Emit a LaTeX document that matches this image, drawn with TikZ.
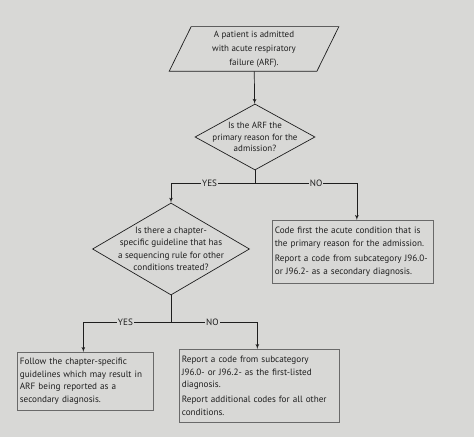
\documentclass[tikz,border=0pt]{standalone}
\usepackage{fontspec}
\setmainfont{PT Sans}
\usetikzlibrary{shapes,arrows}
\definecolor{bg}{RGB}{216,216,214}
\definecolor{ink}{RGB}{30,30,30}
\definecolor{frame}{RGB}{105,105,105}
\tikzstyle{io} = [minimum width=147bp, minimum height=44bp, inner sep=0pt, align=center]
\tikzstyle{decision} = [draw=ink, diamond, inner sep=0pt]
\tikzstyle{block} = [draw=frame, rectangle, align=left, inner xsep=2.5bp, inner ysep=0pt, anchor=north west]
\tikzstyle{branch} = [coordinate]
\tikzstyle{answer} = [fill=bg, inner sep=1pt, text=ink]

\begin{document}
\begin{tikzpicture}[x=1bp, y=-1bp, >=latex', font=\fontsize{9.2}{12.5}\selectfont, text=ink, line width=0.7bp]
\fill[bg] (0,0) rectangle (474,437);
\useasboundingbox (0,0) rectangle (474,437);

% the start and the two questions
\node [io, font=\fontsize{9}{14}\selectfont] (admit) at (254,49) {A patient is admitted\\with acute respiratory\\failure (ARF).};
\draw [ink] ([xshift=-11bp]admit.south west) -- ([xshift=11bp]admit.north west)
  -- ([xshift=11bp]admit.north east) -- ([xshift=-11bp]admit.south east) -- cycle;
\node [decision, minimum width=120bp, minimum height=66bp,
  label={[align=center, font=\fontsize{9}{11.5}\selectfont]center:Is the ARF the\\primary reason for the\\admission?}] (primary) at (255,137) {};
\node [decision, minimum width=157bp, minimum height=92bp,
  label={[align=center]center:Is there a chapter-\\specific guideline that has\\a sequencing rule for other\\conditions treated?}] (rule) at (171,249) {};

% the three outcomes
\node [block, text width=156bp, minimum height=63bp] (codefirst) at (272,220) {Code first the acute condition that is\\the primary reason for the admission.\\[3pt]Report a code from subcategory J96.0-\\or J96.2- as a secondary diagnosis.};
\node [block, text width=131bp, minimum height=58bp] (follow) at (17,352) {Follow the chapter-specific\\guidelines which may result in\\ARF being reported as a\\secondary diagnosis.};
\node [block, text width=155bp, minimum height=73bp] (report) at (179,349) {Report a code from subcategory\\J96.0- or J96.2- as the first-listed\\diagnosis.\\[3pt]Report additional codes for all other\\conditions.};

\node [branch] (split1) at (255,183) {};
\node [branch] (split2) at (171,322) {};

% connectors
\draw [ink, ->] (admit) -- (primary);
\draw [ink] (primary.south) -- (split1);
\draw [ink, ->] (split1) -| node [answer, pos=.27] {YES} (rule.north);
\draw [ink, ->] (split1) -| node [answer, pos=.3] {NO} ([xshift=4bp]codefirst.north);
\draw [ink] (rule.south) -- (split2);
\draw [ink, ->] (split2) -| node [answer, pos=.26] {YES} ([xshift=-2bp]follow.north);
\draw [ink, ->] (split2) -| node [answer, pos=.24] {NO} ([xshift=-2bp]report.north);
\end{tikzpicture}
\end{document}
